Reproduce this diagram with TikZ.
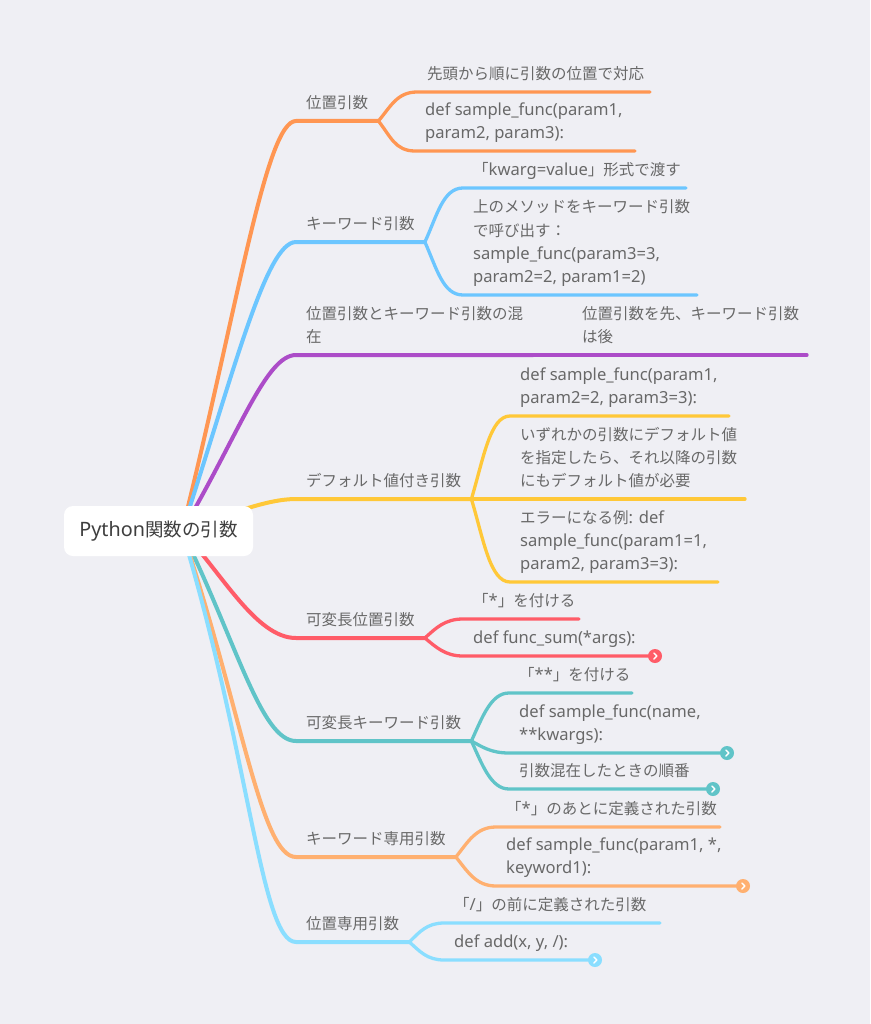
\documentclass[tikz,border=0pt]{standalone}
\usepackage{fontspec}
\setmainfont{Noto Sans CJK JP}
\newfontfamily\latinfont{Noto Sans}[Scale=1.07]
\newcommand\code[1]{{\latinfont #1}}
\definecolor{bgcol}{RGB}{239,239,244}
\definecolor{txtcol}{RGB}{104,104,104}
\definecolor{rootcol}{RGB}{62,62,62}
\definecolor{corange}{RGB}{255,150,82}
\definecolor{cblue}{RGB}{108,198,255}
\definecolor{cpurple}{RGB}{172,76,200}
\definecolor{cyellow}{RGB}{255,200,56}
\definecolor{cred}{RGB}{255,92,104}
\definecolor{cteal}{RGB}{96,196,200}
\definecolor{clorange}{RGB}{255,176,112}
\definecolor{csky}{RGB}{138,222,255}
\tikzset{
  topic/.style={anchor=south west, inner xsep=10pt, inner ysep=5pt, text=txtcol,
    font=\fontsize{15.5}{23.3}\selectfont, align=left, execute at end node=\strut},
  leaf/.style={topic},
  mainline/.style={line width=4pt, line cap=round},
  leafline/.style={line width=3.3pt, line cap=round},
  fold/.style={circle, fill=#1, inner sep=0pt, minimum size=14pt,
    path picture={\draw[white, line width=1.4pt, line cap=round, line join=round]
      ([xshift=-1.2pt,yshift=3pt]path picture bounding box.center) -- ++(3pt,-3pt) -- ++(-3pt,-3pt);}},
  rootbox/.style={fill=white, rounded corners=9pt, minimum width=189pt, minimum height=50pt,
    text=rootcol, font=\fontsize{18.5}{22}\selectfont},
}
\begin{document}
\begin{tikzpicture}[x=1pt, y=-1pt]
  \fill[bgcol] (0,0) rectangle (870,1024);
  \useasboundingbox (0,0) rectangle (870,1024);

  % topics
  \node[topic] (t1) at (296,121) {位置引数};
  \node[topic] (t2) at (296,242) {キーワード引数};
  \node[topic] (t3) at (296,355) {位置引数とキーワード引数の混\\在};
  \node[topic] (t4) at (296,499) {デフォルト値付き引数};
  \node[topic] (t5) at (296,638) {可変長位置引数};
  \node[topic] (t6) at (296,741) {可変長キーワード引数};
  \node[topic] (t7) at (296,857) {キーワード専用引数};
  \node[topic] (t8) at (296,942) {位置専用引数};

  % leaves
  \node[leaf] (a1) at (417,92) {先頭から順に引数の位置で対応};
  \node[leaf] (a2) at (415,151) {\code{def sample\_func(param1,}\\\code{param2, param3):}};
  \node[leaf] (b1) at (463,188) {「\code{kwarg=value}」形式で渡す};
  \node[leaf] (b2) at (463,295) {上のメソッドをキーワード引数\\で呼び出す：\\\code{sample\_func(param3=3,}\\\code{param2=2, param1=2)}};
  \node[leaf] (c1) at (572,355) {位置引数を先、キーワード引数\\は後};
  \node[leaf] (d1) at (510,416) {\code{def sample\_func(param1,}\\\code{param2=2, param3=3):}};
  \node[leaf] (d2) at (510,499) {いずれかの引数にデフォルト値\\を指定したら、それ以降の引数\\にもデフォルト値が必要};
  \node[leaf] (d3) at (510,582) {エラーになる例\code{: def}\\\code{sample\_func(param1=1,}\\\code{param2, param3=3):}};
  \node[leaf] (e1) at (463,619) {「\code{*}」を付ける};
  \node[leaf] (e2) at (463,656) {\code{def func\_sum(*args):}};
  \node[leaf] (f1) at (509,693) {「\code{**}」を付ける};
  \node[leaf] (f2) at (509,753) {\code{def sample\_func(name,}\\\code{**kwargs):}};
  \node[leaf] (f3) at (509,789) {引数混在したときの順番};
  \node[leaf] (g1) at (496,827) {「\code{*}」のあとに定義された引数};
  \node[leaf] (g2) at (496,886) {\code{def sample\_func(param1, *,}\\\code{keyword1):}};
  \node[leaf] (h1) at (444,923) {「\code{/}」の前に定義された引数};
  \node[leaf] (h2) at (444,960) {\code{def add(x, y, /):}};

  % line ends
  \coordinate (hub) at (182,531);
  \coordinate (a1e) at (650,92);
  \coordinate (a2e) at (635,151);
  \coordinate (b1e) at (686,188);
  \coordinate (b2e) at (697,295);
  \coordinate (c1e) at (807,355);
  \coordinate (d1e) at (729,416);
  \coordinate (d2e) at (745,499);
  \coordinate (d3e) at (718,582);
  \coordinate (e1e) at (579,619);
  \coordinate (f1e) at (632,693);
  \coordinate (g1e) at (720,827);
  \coordinate (h1e) at (660,923);

  % main branches
  \draw[mainline, corange] (hub) .. controls +(56,-225) and +(-30,0) .. (t1.south west) -- (t1.south east);
  \draw[mainline, cblue] (hub) .. controls +(52,-159) and +(-30,0) .. (t2.south west) -- (t2.south east);
  \draw[mainline, cpurple] (hub) .. controls +(57,-97) and +(-30,0) .. (t3.south west) -- (t3.south east);
  \draw[mainline, cyellow] (hub) .. controls +(50,-18) and +(-28,0) .. (t4.south west) -- (t4.south east);
  \draw[mainline, cred] (hub) .. controls +(40,42) and +(-40,0) .. (t5.south west) -- (t5.south east);
  \draw[mainline, cteal] (hub) .. controls +(55,112) and +(-35,0) .. (t6.south west) -- (t6.south east);
  \draw[mainline, clorange] (hub) .. controls +(60,180) and +(-35,0) .. (t7.south west) -- (t7.south east);
  \draw[mainline, csky] (hub) .. controls +(68,226) and +(-35,0) .. (t8.south west) -- (t8.south east);

  % sub branches
  \begin{scope}[leafline]
    \draw[corange] (t1.south east) .. controls +(12,-14) and +(-20,0) .. (a1.south west) -- (a1e);
    \draw[corange] (t1.south east) .. controls +(12,15) and +(-20,0) .. (a2.south west) -- (a2e);
    \draw[cblue] (t2.south east) .. controls +(12,-26) and +(-20,0) .. (b1.south west) -- (b1e);
    \draw[cblue] (t2.south east) .. controls +(12,27) and +(-20,0) .. (b2.south west) -- (b2e);
    \draw[cpurple] (t3.south east) -- (c1.south west) -- (c1e);
    \draw[cyellow] (t4.south east) .. controls +(12,-40) and +(-20,0) .. (d1.south west) -- (d1e);
    \draw[cyellow] (t4.south east) -- (d2.south west) -- (d2e);
    \draw[cyellow] (t4.south east) .. controls +(12,40) and +(-20,0) .. (d3.south west) -- (d3e);
    \draw[cred] (t5.south east) .. controls +(11,-10) and +(-18,0) .. (e1.south west) -- (e1e);
    \draw[cred] (t5.south east) .. controls +(11,9) and +(-18,0) .. (e2.south west) -- (655,656) node[fold=cred] (e2f) {};
    \draw[cteal] (t6.south east) .. controls +(11,-24) and +(-18,0) .. (f1.south west) -- (f1e);
    \draw[cteal] (t6.south east) .. controls +(11,6) and +(-18,0) .. (f2.south west) -- (727,753) node[fold=cteal] (f2f) {};
    \draw[cteal] (t6.south east) .. controls +(11,24) and +(-18,0) .. (f3.south west) -- (713,789) node[fold=cteal] (f3f) {};
    \draw[clorange] (t7.south east) .. controls +(12,-15) and +(-20,0) .. (g1.south west) -- (g1e);
    \draw[clorange] (t7.south east) .. controls +(12,15) and +(-20,0) .. (g2.south west) -- (743,886) node[fold=clorange] (g2f) {};
    \draw[csky] (t8.south east) .. controls +(10,-10) and +(-17,0) .. (h1.south west) -- (h1e);
    \draw[csky] (t8.south east) .. controls +(10,9) and +(-17,0) .. (h2.south west) -- (595,960) node[fold=csky] (h2f) {};
  \end{scope}

  \node[rootbox] (root) at (158.5,531) {\code{Python}関数の引数};
\end{tikzpicture}
\end{document}
